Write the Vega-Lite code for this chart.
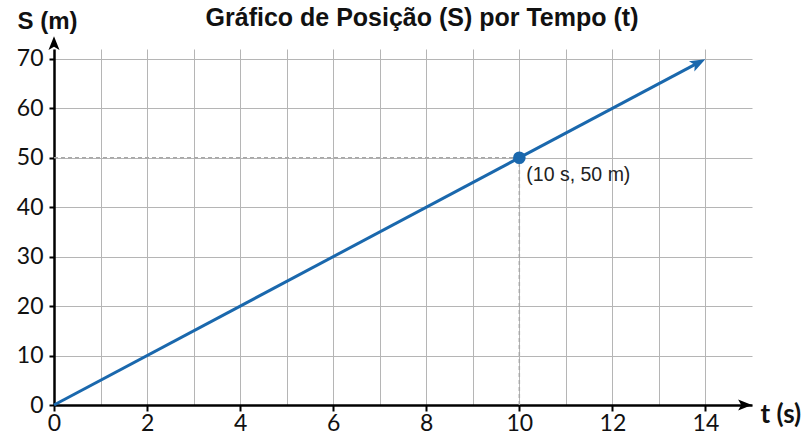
{
  "$schema": "https://vega.github.io/schema/vega-lite/v6.json",
  "width": 698,
  "height": 356,
  "autosize": "none",
  "padding": {"left": 54, "top": 49, "right": 56, "bottom": 35},
  "background": "white",
  "title": {
    "text": "Gráfico de Posição (S) por Tempo (t)",
    "font": "Liberation Sans",
    "fontSize": 25,
    "fontWeight": "bold",
    "color": "#111111",
    "anchor": "middle",
    "dx": 19,
    "offset": -22
  },
  "config": {
    "view": {"stroke": null},
    "font": "Liberation Sans"
  },
  "encoding": {
    "x": {
      "field": "t",
      "type": "quantitative",
      "scale": {"domain": [0, 15], "nice": false, "zero": true},
      "axis": {
        "values": [0, 1, 2, 3, 4, 5, 6, 7, 8, 9, 10, 11, 12, 13, 14],
        "labelExpr": "datum.value % 2 == 0 ? datum.label : ''",
        "tickOpacity": {"condition": {"test": "datum.value % 2 == 1", "value": 0}, "value": 1},
        "labelFont": "Lato",
        "labelFontSize": 23,
        "labelColor": "#111111",
        "labelPadding": 1,
        "labelFlush": false,
        "tickColor": "#000000",
        "tickWidth": 2,
        "tickSize": 6,
        "domainColor": "#000000",
        "domainWidth": 2.5,
        "grid": true,
        "gridColor": "#b5b5b5",
        "gridWidth": 1,
        "title": "t (s)",
        "titleFont": "Lato",
        "titleFontSize": 26,
        "titleFontWeight": "bold",
        "titleColor": "#111111",
        "titleAngle": 0,
        "titleAlign": "left",
        "titleBaseline": "alphabetic",
        "titleX": 706,
        "titleY": 17
      }
    },
    "y": {
      "field": "s",
      "type": "quantitative",
      "scale": {"domain": [0, 72], "nice": false, "zero": true},
      "axis": {
        "values": [0, 10, 20, 30, 40, 50, 60, 70],
        "labelFont": "Lato",
        "labelFontSize": 23,
        "labelColor": "#111111",
        "labelPadding": 6,
        "labelFlush": false,
        "tickColor": "#000000",
        "tickWidth": 2,
        "tickSize": 5,
        "domainColor": "#000000",
        "domainWidth": 2.5,
        "grid": true,
        "gridColor": "#b5b5b5",
        "gridWidth": 1,
        "title": "S (m)",
        "titleFont": "Liberation Sans",
        "titleFontSize": 24,
        "titleFontWeight": "bold",
        "titleColor": "#111111",
        "titleAngle": 0,
        "titleAlign": "left",
        "titleBaseline": "alphabetic",
        "titleX": -37,
        "titleY": -21
      }
    }
  },
  "layer": [
    {
      "data": {"values": [
        {"t": 0, "s": 50, "t2": 10, "s2": 50},
        {"t": 10, "s": 0, "t2": 10, "s2": 50}
      ]},
      "mark": {"type": "rule", "color": "#a8a8a8", "strokeWidth": 1.5, "strokeDash": [4, 3]},
      "encoding": {"x2": {"field": "t2"}, "y2": {"field": "s2"}}
    },
    {
      "data": {"values": [{"t": 0, "s": 0}, {"t": 13.8, "s": 69}]},
      "mark": {"type": "line", "color": "#1a68ad", "strokeWidth": 3}
    },
    {
      "data": {"values": [{"t": 13.85, "s": 69.2}]},
      "mark": {"type": "point", "shape": "M1,0 L-1,-0.75 L-0.55,0 L-1,0.75 Z", "angle": 332, "size": 240, "filled": true, "opacity": 1, "color": "#1a68ad"}
    },
    {
      "data": {"values": [{"t": 10, "s": 50, "label": "(10 s, 50 m)"}]},
      "layer": [
        {"mark": {"type": "point", "shape": "circle", "size": 160, "filled": true, "opacity": 1, "color": "#1a68ad"}},
        {
          "mark": {"type": "text", "align": "left", "baseline": "middle", "dx": 7, "dy": 17, "fontSize": 19.5, "font": "Liberation Sans", "color": "#222222"},
          "encoding": {"text": {"field": "label"}}
        }
      ]
    },
    {
      "data": {"values": [{"t": 14.85, "s": 0}]},
      "mark": {"type": "point", "shape": "M1,0 L-1,-0.8 L-0.55,0 L-1,0.8 Z", "size": 190, "filled": true, "opacity": 1, "color": "#000000"}
    },
    {
      "data": {"values": [{"t": 0, "s": 73.2}]},
      "mark": {"type": "point", "shape": "M0,-1 L-0.8,1 L0,0.55 L0.8,1 Z", "size": 190, "filled": true, "opacity": 1, "color": "#000000"}
    }
  ]
}
